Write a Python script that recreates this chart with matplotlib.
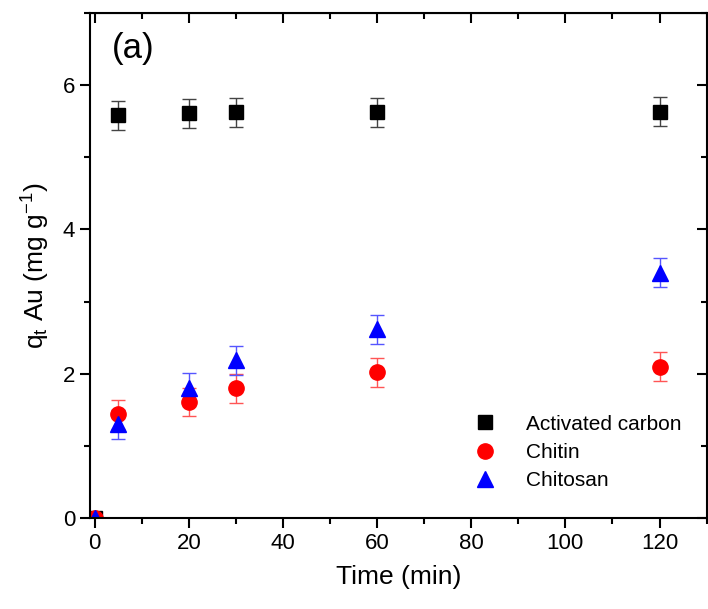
import matplotlib
matplotlib.use("Agg")
import matplotlib.pyplot as plt
from matplotlib.lines import Line2D
from matplotlib.ticker import MultipleLocator

plt.rcParams['font.family'] = ['Liberation Sans Narrow', 'Liberation Sans', 'DejaVu Sans']
plt.rcParams['mathtext.default'] = 'regular'

# data
time = [0, 5, 20, 30, 60, 120]
carbon = [0, 5.58, 5.61, 5.62, 5.62, 5.63]
chitin = [0, 1.44, 1.61, 1.80, 2.02, 2.10]
chitosan = [0, 1.30, 1.81, 2.19, 2.62, 3.40]
carbon_err = [0, 0.2, 0.2, 0.2, 0.2, 0.2]
chitin_err = [0, 0.2, 0.2, 0.2, 0.2, 0.2]
chitosan_err = [0, 0.2, 0.2, 0.2, 0.2, 0.2]
labels = ['Activated carbon', 'Chitin', 'Chitosan']

fig = plt.figure(figsize=(7.08, 6.09), dpi=100)
ax = fig.add_axes([0.127, 0.149, 0.871, 0.830])

ax.errorbar(time, carbon, yerr=carbon_err, fmt='s', color='black', ms=10,
            ecolor='#444444', elinewidth=1, capsize=5)
ax.errorbar(time, chitin, yerr=chitin_err, fmt='o', color='red', ms=11,
            ecolor='#ff5555', elinewidth=1, capsize=5)
ax.errorbar(time, chitosan, yerr=chitosan_err, fmt='^', color='blue', ms=12,
            ecolor='#5555ff', elinewidth=1, capsize=5)

ax.set_xlim(-1, 130)
ax.set_ylim(0, 7)
ax.xaxis.set_major_locator(MultipleLocator(20))
ax.xaxis.set_minor_locator(MultipleLocator(10))
ax.yaxis.set_major_locator(MultipleLocator(2))
ax.yaxis.set_minor_locator(MultipleLocator(1))

ax.tick_params(which='both', direction='out', width=1.5, labelsize=16)
ax.tick_params(which='major', length=7)
ax.tick_params(which='minor', length=4)
ax.tick_params(top=False, right=False)
for s in ax.spines.values():
    s.set_linewidth(1.5)

# inward ticks on top and right
axt = ax.secondary_xaxis('top')
axt.xaxis.set_major_locator(MultipleLocator(20))
axt.xaxis.set_minor_locator(MultipleLocator(10))
axt.tick_params(which='both', direction='in', width=1.5, labeltop=False)
axt.tick_params(which='major', length=7)
axt.tick_params(which='minor', length=4)
axr = ax.secondary_yaxis('right')
axr.yaxis.set_major_locator(MultipleLocator(2))
axr.yaxis.set_minor_locator(MultipleLocator(1))
axr.tick_params(which='both', direction='in', width=1.5, labelright=False)
axr.tick_params(which='major', length=7)
axr.tick_params(which='minor', length=4)

ax.set_xlabel('Time (min)', fontsize=19, labelpad=8)
ax.set_ylabel(r'q$_t$ Au (mg g$^{-1}$)', fontsize=19, labelpad=8)
ax.text(0.035, 0.93, '(a)', transform=ax.transAxes, fontsize=25, va='center')

handles = [Line2D([], [], ls='none', marker='s', color='black', ms=10),
           Line2D([], [], ls='none', marker='o', color='red', ms=11),
           Line2D([], [], ls='none', marker='^', color='blue', ms=12)]
ax.legend(handles, labels, loc='lower right', bbox_to_anchor=(0.99, 0.018),
          frameon=False, fontsize=15, handletextpad=1.0, labelspacing=0.45)

fig.savefig('out.png', dpi=100)
